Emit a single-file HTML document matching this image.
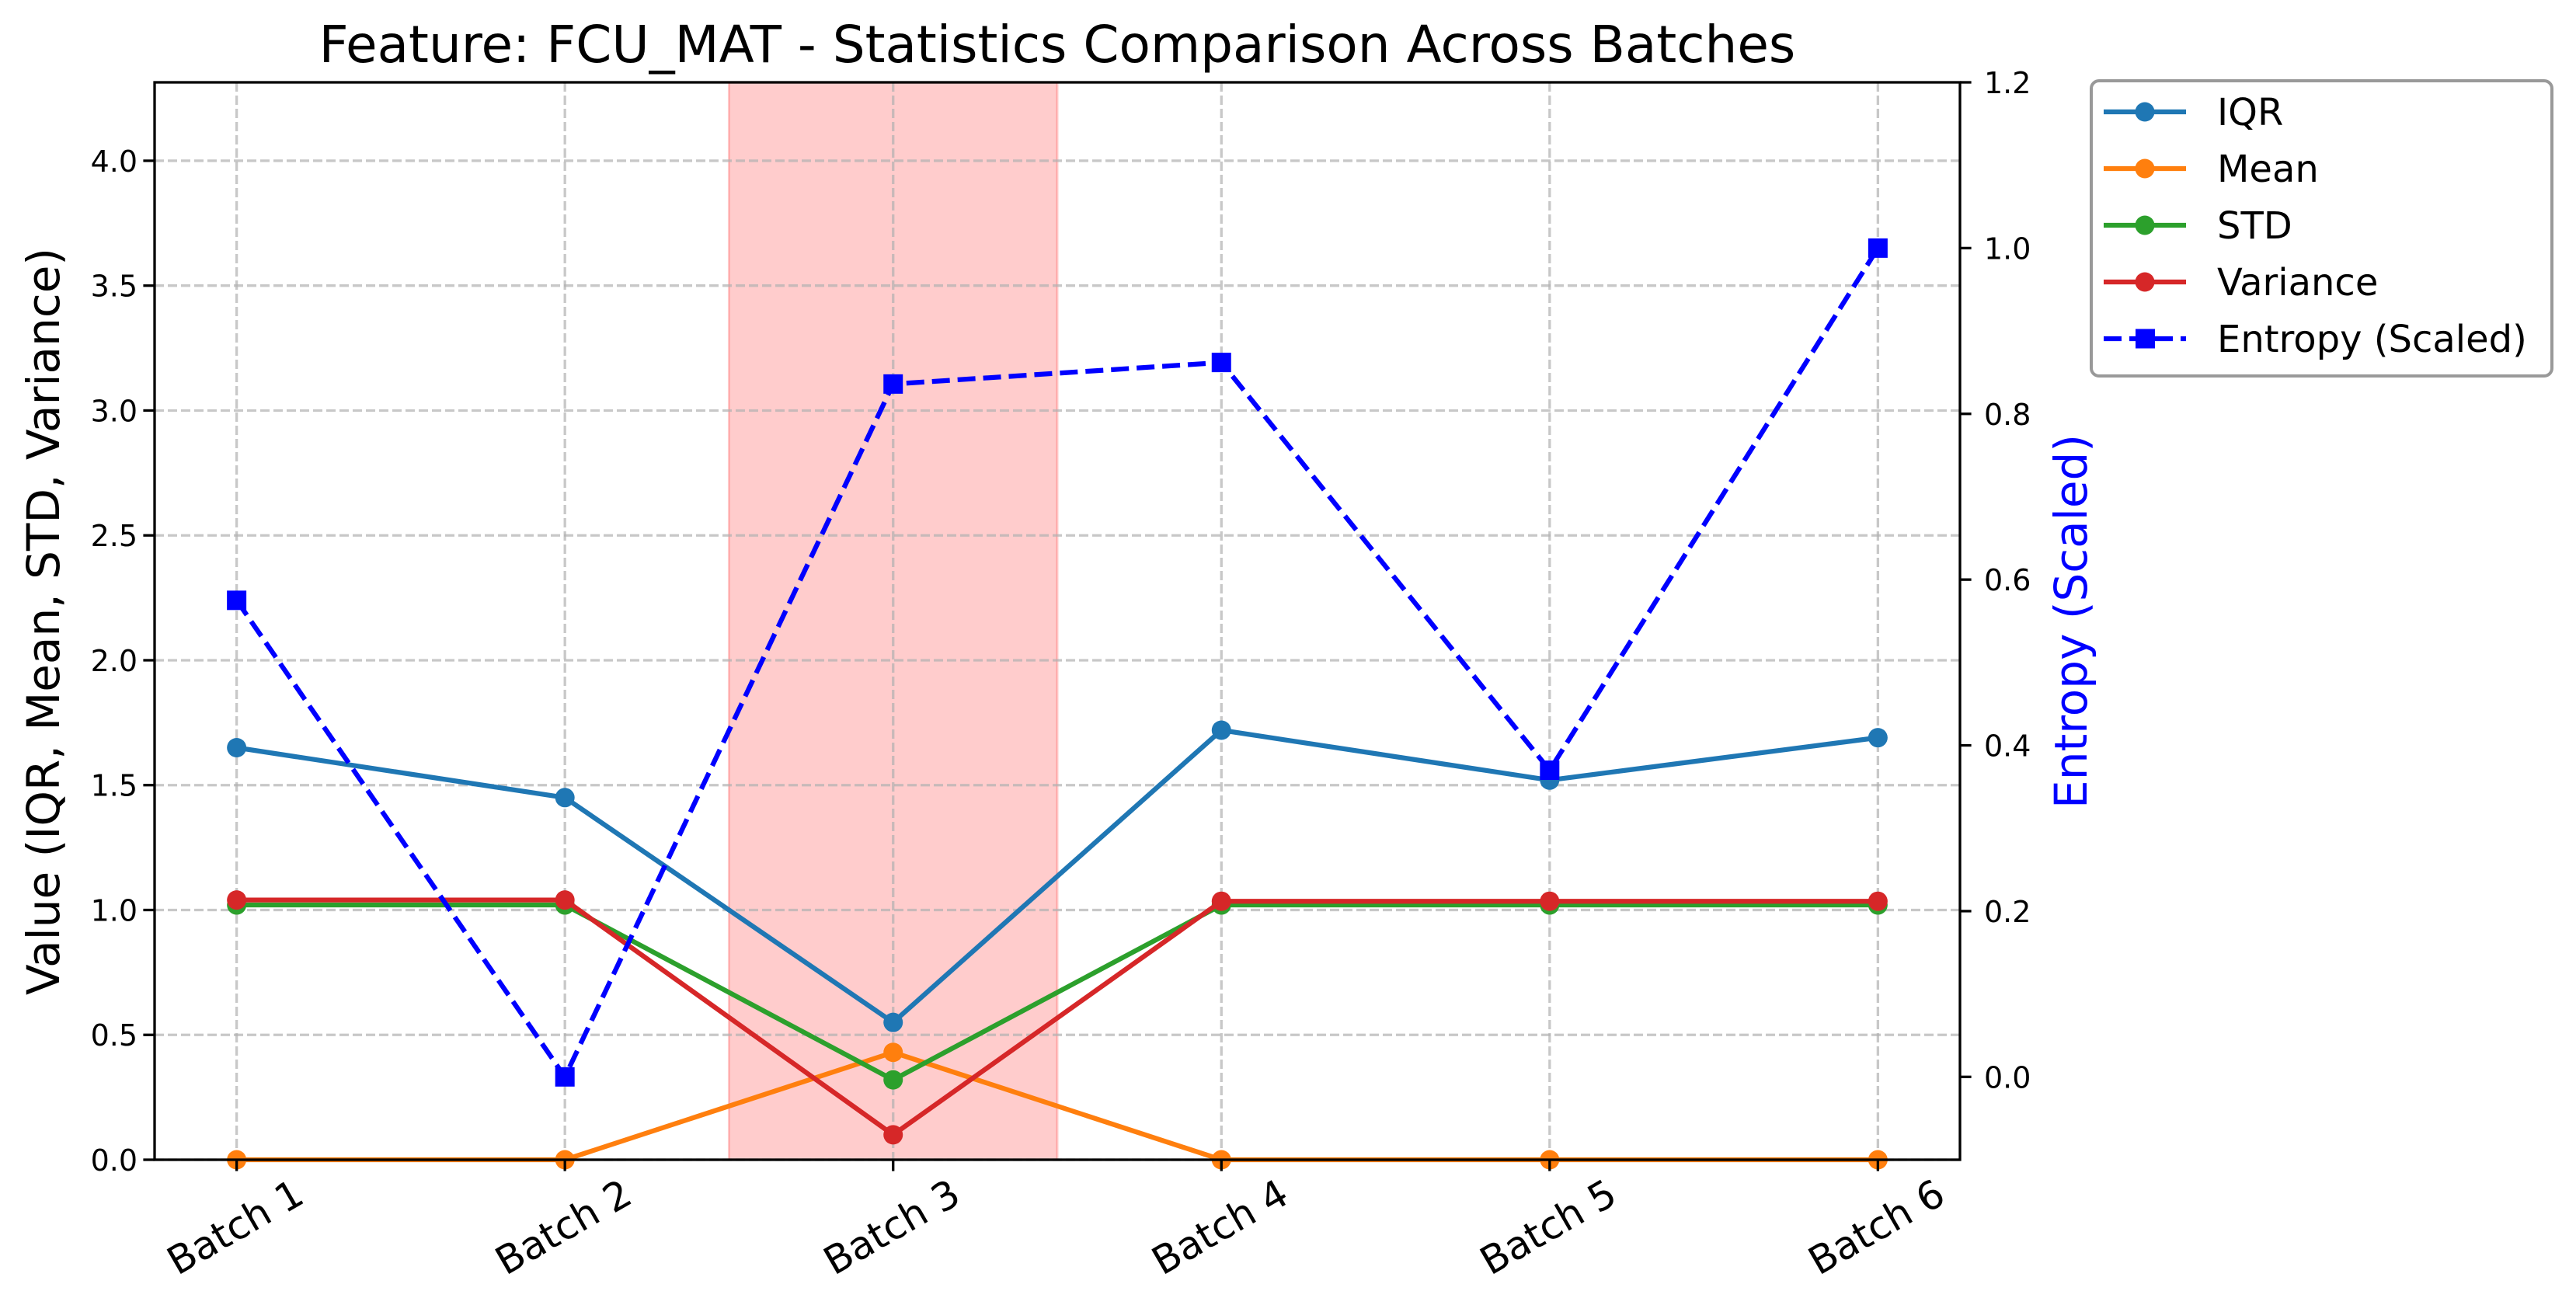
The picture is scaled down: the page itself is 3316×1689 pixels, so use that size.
<!DOCTYPE html>
<html><head><meta charset="utf-8"><style>
html,body{margin:0;padding:0;background:#fff;}
svg{display:block;font-family:"DejaVu Sans","Liberation Sans",sans-serif;}
</style></head><body>
<svg id="chart" width="3316" height="1689" viewBox="0 0 3316 1689" xmlns="http://www.w3.org/2000/svg">
<rect width="3316" height="1689" fill="#fff"/>
<g id="shade"></g>
<g id="grid"></g>
<g id="series"></g>
<g id="axes"></g>
<text x="1361" y="80" font-size="66" text-anchor="middle">Feature: FCU_MAT - Statistics Comparison Across Batches</text>
<text transform="translate(76,800) rotate(-90)" font-size="58" text-anchor="middle">Value (IQR, Mean, STD, Variance)</text>
<text transform="translate(2686,800) rotate(-90)" font-size="58" text-anchor="middle" fill="#0000ff">Entropy (Scaled)</text>
<g id="legend"></g>
</svg>
<script>
const categories = ["Batch 1","Batch 2","Batch 3","Batch 4","Batch 5","Batch 6"];
const iqr = [1.65,1.45,0.55,1.72,1.52,1.69];
const mean = [0,0,0.43,0,0,0];
const std = [1.02,1.02,0.32,1.02,1.02,1.02];
const variance = [1.04,1.04,0.10,1.035,1.035,1.035];
const entropy = [0.575,0.0,0.836,0.862,0.37,1.0];
const yTicks = [0.0,0.5,1.0,1.5,2.0,2.5,3.0,3.5,4.0];
const y2Ticks = [0.0,0.2,0.4,0.6,0.8,1.0,1.2];
const highlightIndex = 2;

const NS="http://www.w3.org/2000/svg";
const L=199,R=2523,T=106,B=1493;
const xmin=-0.25,xmax=5.25,ymin=0,ymax=4.314,y2min=-0.1,y2max=1.2;
const X=i=>L+(i-xmin)/(xmax-xmin)*(R-L);
const Y=v=>B-(v-ymin)/(ymax-ymin)*(B-T);
const Y2=v=>B-(v-y2min)/(y2max-y2min)*(B-T);
function mk(tag,attrs,parent){const e=document.createElementNS(NS,tag);for(const k in attrs)e.setAttribute(k,attrs[k]);parent.appendChild(e);return e;}
const gS=document.getElementById('shade'),gG=document.getElementById('grid'),gSe=document.getElementById('series'),gA=document.getElementById('axes'),gL=document.getElementById('legend');

const sh=mk('rect',{x:X(highlightIndex-0.5),y:T,width:X(highlightIndex+0.5)-X(highlightIndex-0.5),height:B-T,fill:'#ff0000','fill-opacity':0.2,stroke:'#ff0000','stroke-opacity':0.2,'stroke-width':3},gS);



categories.forEach((c,i)=>{
  const g=mk('line',{x1:X(i),x2:X(i),y1:T,y2:B,stroke:'#b0b0b0','stroke-opacity':0.7,'stroke-width':3.3,'stroke-dasharray':'12 5'},gG);
  
  
  mk('line',{x1:X(i),x2:X(i),y1:B,y2:B+14.6,stroke:'#000','stroke-width':3.3},gA);
  const t=mk('text',{transform:`translate(${X(i)},1583) rotate(-30)`,'font-size':50,'text-anchor':'middle','dominant-baseline':'middle'},gA);
  t.textContent=c;
  
  
});
yTicks.forEach(v=>{
  const g=mk('line',{x1:L,x2:R,y1:Y(v),y2:Y(v),stroke:'#b0b0b0','stroke-opacity':0.7,'stroke-width':3.3,'stroke-dasharray':'12 5'},gG);
  
  
  mk('line',{x1:L-14.6,x2:L,y1:Y(v),y2:Y(v),stroke:'#000','stroke-width':3.3},gA);
  const t=mk('text',{x:L-22,y:Y(v)+14,'font-size':38,'text-anchor':'end'},gA);
  t.textContent=v.toFixed(1);
  
  
});
y2Ticks.forEach(v=>{
  mk('line',{x1:R,x2:R+14.6,y1:Y2(v),y2:Y2(v),stroke:'#000','stroke-width':3.3},gA);
  const t=mk('text',{x:R+31,y:Y2(v)+14,'font-size':38,'text-anchor':'start'},gA);
  t.textContent=v.toFixed(1);
  
  
});
const frame=mk('rect',{x:L,y:T,width:R-L,height:B-T,fill:'none',stroke:'#000','stroke-width':3.3},gA);



const series=[
 {name:'IQR',data:iqr,color:'#1f77b4',key:'iqr'},
 {name:'Mean',data:mean,color:'#ff7f0e',key:'mean'},
 {name:'STD',data:std,color:'#2ca02c',key:'std'},
 {name:'Variance',data:variance,color:'#d62728',key:'variance'}
];
series.forEach(s=>{
  const pl=mk('polyline',{points:s.data.map((v,i)=>X(i)+','+Y(v)).join(' '),fill:'none',stroke:s.color,'stroke-width':6.25,'stroke-linejoin':'round'},gSe);
  
  
  s.data.forEach((v,i)=>{
    const c=mk('circle',{cx:X(i),cy:Y(v),r:12.5,fill:s.color},gSe);
    
    
  });
});
const ep=mk('polyline',{points:entropy.map((v,i)=>X(i)+','+Y2(v)).join(' '),fill:'none',stroke:'#0000ff','stroke-width':6.25,'stroke-dasharray':'23 10'},gSe);


entropy.forEach((v,i)=>{
  const r=mk('rect',{x:X(i)-12.5,y:Y2(v)-12.5,width:25,height:25,fill:'#0000ff'},gSe);
  
  
});

const box=mk('rect',{x:2692,y:104,width:593,height:380,rx:10,fill:'#fff','fill-opacity':0.8,stroke:'#999','stroke-width':4},gL);


const entries=series.map(s=>({name:s.name,color:s.color,sq:false})).concat([{name:'Entropy (Scaled)',color:'#0000ff',sq:true}]);
entries.forEach((e,k)=>{
  const y=144+k*73;
  const g=mk('g',{},gL);
  
  
  mk('line',{x1:2708,x2:2814,y1:y,y2:y,stroke:e.color,'stroke-width':6.25,'stroke-dasharray':e.sq?'23 10':'none'},g);
  if(e.sq) mk('rect',{x:2749,y:y-12.5,width:25,height:25,fill:e.color},g);
  else mk('circle',{cx:2761,cy:y,r:12.5,fill:e.color},g);
  const t=mk('text',{x:2854,y:y+17,'font-size':48},g);
  t.textContent=e.name;
});
</script>
</body></html>
